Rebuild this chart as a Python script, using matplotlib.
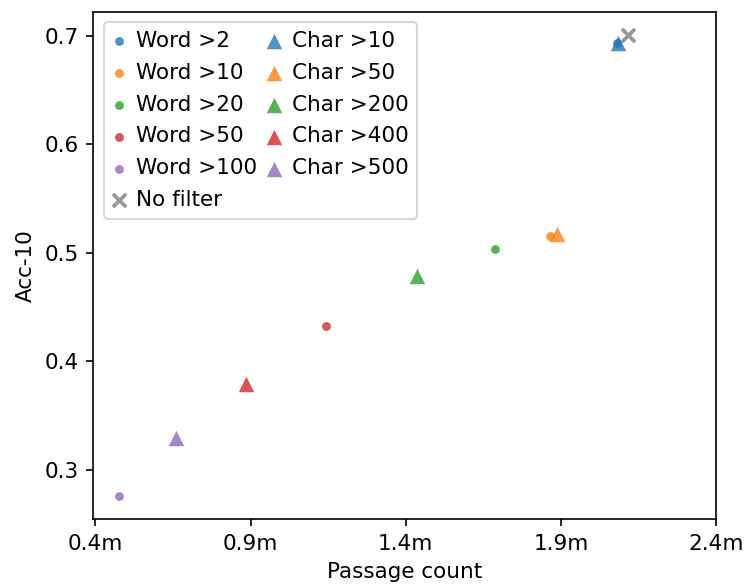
import matplotlib.pyplot as plt
from matplotlib.ticker import FuncFormatter

# passage counts (millions) and Acc-10 for each filtering rule
word_labels = ["Word >2", "Word >10", "Word >20", "Word >50", "Word >100"]
word_count = [2.082, 1.866, 1.686, 1.143, 0.475]
word_acc = [0.6935, 0.5156, 0.503, 0.432, 0.2755]

char_labels = ["Char >10", "Char >50", "Char >200", "Char >400", "Char >500"]
char_count = [2.085, 1.887, 1.437, 0.884, 0.659]
char_acc = [0.693, 0.517, 0.479, 0.379, 0.329]

nofilter_count = 2.117
nofilter_acc = 0.701

colors = ["tab:blue", "tab:orange", "tab:green", "tab:red", "tab:purple"]
xticks = [0.4, 0.9, 1.4, 1.9, 2.4]
yticks = [0.3, 0.4, 0.5, 0.6, 0.7]


def main():
    plt.rcParams["font.size"] = 10.3
    fig, ax = plt.subplots(figsize=(746 / 150, 588 / 150), dpi=150)
    fig.subplots_adjust(left=0.125, right=0.96, top=0.98, bottom=0.117)

    word_handles = []
    for lab, x, y, c in zip(word_labels, word_count, word_acc, colors):
        h = ax.scatter(x, y, s=18, color=c, alpha=0.8, label=lab, linewidths=0)
        word_handles.append(h)

    char_handles = []
    for lab, x, y, c in zip(char_labels, char_count, char_acc, colors):
        h = ax.scatter(x, y, s=55, marker="^", color=c, alpha=0.8, label=lab, linewidths=0)
        char_handles.append(h)

    nf = ax.scatter(nofilter_count, nofilter_acc, s=40, marker="x", color="tab:gray",
                    alpha=0.8, linewidths=1.8, label="No filter")

    ax.set_xticks(xticks)
    ax.set_yticks(yticks)
    ax.xaxis.set_major_formatter(FuncFormatter(lambda v, p: f"{v:.1f}m"))
    ax.set_xlabel("Passage count")
    ax.set_ylabel("Acc-10")

    handles = word_handles + [nf] + char_handles
    ax.legend(handles=handles, loc="upper left", ncol=2, columnspacing=0.5,
              handletextpad=0.5, handlelength=0.6, labelspacing=0.55)

    fig.savefig("out.png", dpi=150)


if __name__ == "__main__":
    main()
